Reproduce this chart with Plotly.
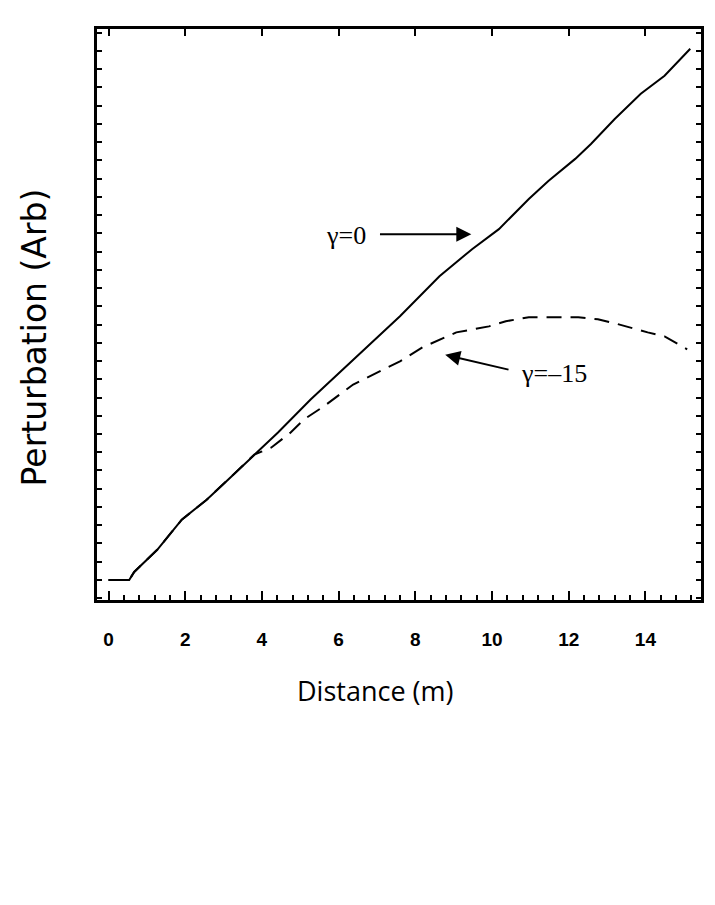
import plotly.graph_objects as go

# gamma = 0 (solid)
x_g0 = [0.0, 0.54, 0.67, 1.27, 1.91, 2.56, 3.20, 3.80, 4.42, 5.27, 6.49, 7.60, 8.63, 9.48, 10.18, 10.96, 11.47, 12.17, 12.58, 13.20, 13.88, 14.50, 15.17]
y_g0 = [0.0, 0.0, 0.44, 1.65, 3.30, 4.40, 5.66, 6.87, 8.08, 9.89, 12.25, 14.45, 16.65, 18.13, 19.23, 20.88, 21.87, 23.08, 23.90, 25.27, 26.65, 27.64, 29.12]

# gamma = -15 (dashed)
x_g15 = [0.0, 0.54, 0.67, 1.27, 1.91, 2.56, 3.20, 3.80, 4.24, 4.75, 5.09, 5.61, 6.38, 7.16, 7.60, 8.19, 9.07, 9.92, 10.36, 10.96, 11.55, 12.25, 12.76, 13.20, 14.06, 14.50, 15.09]
y_g15 = [0.0, 0.0, 0.44, 1.65, 3.30, 4.40, 5.66, 6.87, 7.25, 8.08, 8.79, 9.51, 10.71, 11.54, 11.98, 12.75, 13.57, 13.90, 14.18, 14.40, 14.40, 14.40, 14.29, 14.07, 13.57, 13.35, 12.64]

x_tickvals = [0, 2, 4, 6, 8, 10, 12, 14]
x_ticktext = ["0", "2", "4", "6", "8", "10", "12", "14"]

fig = go.Figure()
fig.add_trace(go.Scatter(x=x_g0, y=y_g0, mode="lines",
                         line=dict(color="black", width=2), showlegend=False))
fig.add_trace(go.Scatter(x=x_g15, y=y_g15, mode="lines",
                         line=dict(color="black", width=2, dash="15px,9px"), showlegend=False))
# invisible trace for top axis
fig.add_trace(go.Scatter(x=[x_g0[0]], y=[y_g0[0]], xaxis="x2", mode="lines",
                         line=dict(width=0), showlegend=False, hoverinfo="skip"))

xr = [-0.3, 15.45]
yr = [-1.1, 30.2]

fig.update_layout(
    width=715, height=905,
    margin=dict(l=97, r=11, t=29, b=305),
    paper_bgcolor="white", plot_bgcolor="white",
    xaxis=dict(
        range=xr, showgrid=False, zeroline=False,
        showline=True, linecolor="black", linewidth=2.5, mirror=True,
        ticks="inside", ticklen=9, tickwidth=2, tickcolor="black",
        tickvals=x_tickvals, ticktext=x_ticktext,
        ticklabelstandoff=20,
        tickfont=dict(family="Liberation Sans", size=19, color="black", weight="bold"),
        minor=dict(dtick=0.4, tick0=0, ticks="inside", ticklen=5, tickwidth=1.5, tickcolor="black"),
    ),
    xaxis2=dict(
        range=xr, overlaying="x", side="top", showgrid=False, zeroline=False,
        showline=False, ticks="inside", ticklen=7, tickwidth=2, tickcolor="black",
        tickvals=x_tickvals, showticklabels=False,
    ),
    yaxis=dict(
        range=yr, showgrid=False, zeroline=False,
        showline=True, linecolor="black", linewidth=2.5, mirror="ticks",
        ticks="inside", ticklen=5, tickwidth=2, tickcolor="black",
        tick0=0, dtick=1, showticklabels=False,
    ),
)

# axis titles
fig.add_annotation(x=0.461, y=-0.158, xref="paper", yref="paper", text="Distance (m)",
                   showarrow=False, xanchor="center", yanchor="middle",
                   font=dict(family="Open Sans", size=27, color="black"))
fig.add_annotation(x=-0.102, y=0.4606, xref="paper", yref="paper", text="Perturbation (Arb)",
                   showarrow=False, textangle=-90, xanchor="center", yanchor="middle",
                   font=dict(family="DejaVu Sans", size=33, color="black"))

# curve labels with arrows
fig.add_annotation(x=9.46, y=18.95, xref="x", yref="y", axref="x", ayref="y",
                   ax=7.04, ay=18.95, text="", showarrow=True, arrowhead=2,
                   arrowsize=1.5, arrowwidth=2, arrowcolor="black")
fig.add_annotation(x=8.78, y=12.34, xref="x", yref="y", axref="x", ayref="y",
                   ax=10.47, ay=11.51, text="", showarrow=True, arrowhead=2,
                   arrowsize=1.5, arrowwidth=2, arrowcolor="black")
fig.add_annotation(x=6.19, y=18.86, xref="x", yref="y", text="γ=0", showarrow=False,
                   font=dict(family="Liberation Serif", size=26, color="black"))
fig.add_annotation(x=11.61, y=11.29, xref="x", yref="y", text="γ=–15", showarrow=False,
                   font=dict(family="Liberation Serif", size=26, color="black"))

fig.write_html("out.html")
